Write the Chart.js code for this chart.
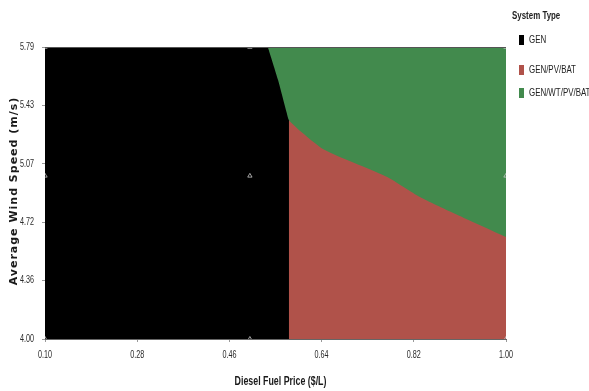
<!DOCTYPE html>
<html>
<head>
<meta charset="utf-8">
<script src="https://cdn.jsdelivr.net/npm/chart.js@4.4.1/dist/chart.umd.min.js"></script>
<style>
  html, body { margin: 0; padding: 0; background: #fff; }
  #wrap { width: 589px; height: 391px; }
</style>
</head>
<body>
<div id="wrap"><canvas id="sysChart"></canvas></div>
<script>
// axis ranges and ticks
const priceTicks = [0.10, 0.28, 0.46, 0.64, 0.82, 1.00];
const priceLabels = ['0.10', '0.28', '0.46', '0.64', '0.82', '1.00'];
const windTicks = [4.00, 4.358, 4.716, 5.074, 5.432, 5.79];
const windLabels = ['4.00', '4.36', '4.72', '5.07', '5.43', '5.79'];

// GEN / GEN+WT border (left edge of green area)
const genEdgePrice = [0.535, 0.555, 0.572, 0.576];
const genEdgeWind = [5.79, 5.588, 5.385, 5.343];

// GEN+PV / GEN+WT border (top of red area)
const wtEdgePrice = [0.576, 0.600, 0.640, 0.690, 0.768, 0.832, 0.897, 1.00];
const wtEdgeWind = [5.343, 5.27, 5.17, 5.097, 4.993, 4.870, 4.772, 4.625];

// sensitivity points
const sensPrice = [0.10, 0.50, 1.00];
const sensWind = [4.00, 5.00, 5.79];

const systemTypes = ['GEN', 'GEN/PV/BAT', 'GEN/WT/PV/BAT'];
const typeColors = ['#000000', '#b0524a', '#428a4d'];

const toPts = (xs, ys) => xs.map((x, i) => ({ x: x, y: ys[i] }));

const topWind = windTicks[windTicks.length - 1];
const maxPrice = priceTicks[priceTicks.length - 1];
// layers: black underneath everything, red from the PV border, green on top
const greenPts = toPts(genEdgePrice, genEdgeWind).concat(toPts(wtEdgePrice, wtEdgeWind).slice(1));
const redPts = [{ x: wtEdgePrice[0], y: topWind }, { x: maxPrice, y: topWind }];
const blackPts = [{ x: priceTicks[0], y: topWind }, { x: maxPrice, y: topWind }];
const markerPts = [];
sensPrice.forEach(p => sensWind.forEach(w => markerPts.push({ x: p, y: w })));

const NARROW = '"Liberation Sans", sans-serif';

// condensed text, the reference uses a narrow font
function narrowText(ctx, text, x, y, sx, align) {
  ctx.save();
  ctx.translate(x, y);
  ctx.scale(sx, 1);
  ctx.textAlign = align || 'left';
  ctx.fillText(text, 0, 0);
  ctx.restore();
}

// tick labels, axis titles, legend and top border
const textLayer = {
  id: 'textLayer',
  afterDraw(chart) {
    const ctx = chart.ctx;
    const xs = chart.scales.x, ys = chart.scales.y;
    const area = chart.chartArea;
    ctx.save();

    ctx.strokeStyle = '#555';
    ctx.lineWidth = 1;
    ctx.beginPath();
    ctx.moveTo(area.left, area.top + 0.5);
    ctx.lineTo(area.right, area.top + 0.5);
    ctx.stroke();

    ctx.fillStyle = '#2a2a2a';
    ctx.textBaseline = 'middle';
    ctx.font = '10px ' + NARROW;
    priceTicks.forEach((v, i) => {
      narrowText(ctx, priceLabels[i], xs.getPixelForValue(v), area.bottom + 16, 0.72, 'center');
    });
    windTicks.forEach((v, i) => {
      narrowText(ctx, windLabels[i], area.left - 11, ys.getPixelForValue(v), 0.72, 'right');
    });

    ctx.fillStyle = '#1a1a1a';
    ctx.font = 'bold 13px ' + NARROW;
    narrowText(ctx, 'Diesel Fuel Price ($/L)', (area.left + area.right) / 2 + 5, area.bottom + 42, 0.68, 'center');

    ctx.save();
    ctx.translate(14, (area.top + area.bottom) / 2 - 2);
    ctx.rotate(-Math.PI / 2);
    ctx.font = 'bold 11px "DejaVu Sans", sans-serif';
    ctx.letterSpacing = '1px';
    ctx.textAlign = 'center';
    ctx.fillText('Average Wind Speed (m/s)', 0, 0);
    ctx.restore();

    ctx.fillStyle = '#222';
    ctx.font = 'bold 11px ' + NARROW;
    narrowText(ctx, 'System Type', 512, 16, 0.72, 'left');
    const rows = [40, 70, 93];
    systemTypes.forEach((t, i) => {
      ctx.fillStyle = typeColors[i];
      ctx.fillRect(519, rows[i] - 5, 5, 10);
      ctx.fillStyle = '#222';
      ctx.font = '11px ' + NARROW;
      narrowText(ctx, t, 529, rows[i], 0.72, 'left');
    });
    ctx.restore();
  }
};

const ctx = document.getElementById('sysChart').getContext('2d');
const sysChart = new Chart(ctx, {
  type: 'line',
  data: {
    datasets: [
      { // sensitivity markers on top
        label: 'points',
        data: markerPts,
        showLine: false,
        pointStyle: 'triangle',
        pointRadius: 2.5,
        pointBackgroundColor: 'rgba(0,0,0,0)',
        pointBorderColor: 'rgba(200,200,200,0.8)',
        pointBorderWidth: 1
      },
      {
        label: systemTypes[2],
        data: greenPts,
        borderWidth: 0,
        pointRadius: 0,
        backgroundColor: typeColors[2],
        borderColor: typeColors[2],
        fill: 'end',
        tension: 0.2
      },
      {
        label: systemTypes[1],
        data: redPts,
        borderWidth: 0,
        pointRadius: 0,
        backgroundColor: typeColors[1],
        borderColor: typeColors[1],
        fill: 'start'
      },
      {
        label: systemTypes[0],
        data: blackPts,
        borderWidth: 0,
        pointRadius: 0,
        backgroundColor: typeColors[0],
        borderColor: typeColors[0],
        fill: 'start'
      }
    ]
  },
  options: {
    responsive: true,
    maintainAspectRatio: false,
    animation: false,
    layout: { padding: { top: 47, right: 83, bottom: 0, left: 0 } },
    plugins: {
      legend: { display: false },
      tooltip: { enabled: false }
    },
    scales: {
      x: {
        type: 'linear',
        min: priceTicks[0],
        max: maxPrice,
        afterFit: s => { s.height = 52; },
        afterBuildTicks: s => { s.ticks = priceTicks.map(v => ({ value: v })); },
        ticks: { display: false, autoSkip: false },
        grid: { display: true, drawOnChartArea: false, tickLength: 3, color: '#999' },
        border: { display: true, color: '#666' }
      },
      y: {
        type: 'linear',
        min: windTicks[0],
        max: topWind,
        afterFit: s => { s.width = 45; },
        afterBuildTicks: s => { s.ticks = windTicks.map(v => ({ value: v })); },
        ticks: { display: false, autoSkip: false },
        grid: { display: true, drawOnChartArea: false, tickLength: 3, color: '#999' },
        border: { display: true, color: '#666' }
      }
    }
  },
  plugins: [textLayer]
});
</script>
</body>
</html>
